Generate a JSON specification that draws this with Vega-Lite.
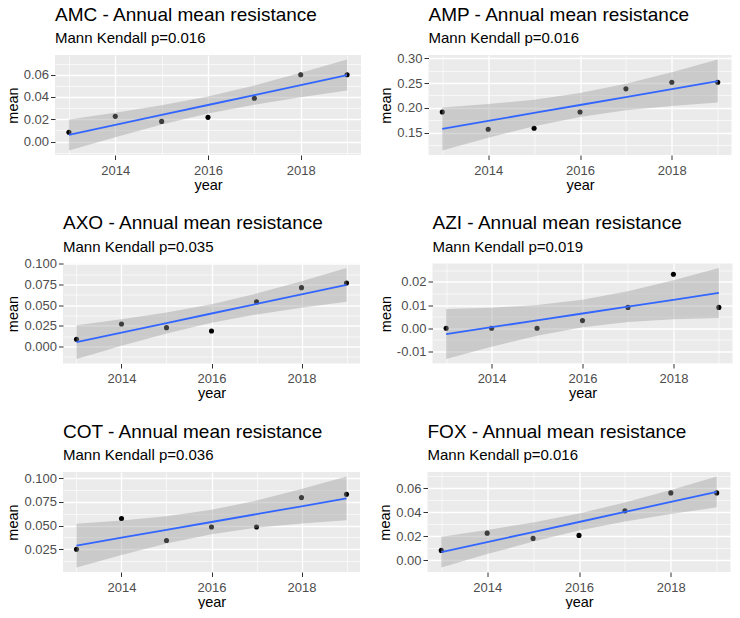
{
  "$schema": "https://vega.github.io/schema/vega-lite/v6.json",
  "background": "white",
  "padding": {"left": 4, "top": 5, "right": 0, "bottom": 0},
  "datasets": {
    "d": [
      {"drug": "AMC", "year": 2013, "mean": 0.0083, "fit": 0.00595, "lo": -0.00798, "hi": 0.01988},
      {"drug": "AMC", "year": 2014, "mean": 0.0226, "fit": 0.0149, "lo": 0.00397, "hi": 0.02583},
      {"drug": "AMC", "year": 2015, "mean": 0.0181, "fit": 0.02385, "lo": 0.01521, "hi": 0.03249},
      {"drug": "AMC", "year": 2016, "mean": 0.0217, "fit": 0.0328, "lo": 0.02508, "hi": 0.04052},
      {"drug": "AMC", "year": 2017, "mean": 0.0389, "fit": 0.04175, "lo": 0.03311, "hi": 0.05039},
      {"drug": "AMC", "year": 2018, "mean": 0.06, "fit": 0.0507, "lo": 0.03977, "hi": 0.06163},
      {"drug": "AMC", "year": 2019, "mean": 0.06, "fit": 0.05965, "lo": 0.04572, "hi": 0.07358},
      {"drug": "AMP", "year": 2013, "mean": 0.1915, "fit": 0.15747, "lo": 0.11402, "hi": 0.20092},
      {"drug": "AMP", "year": 2014, "mean": 0.1567, "fit": 0.17357, "lo": 0.13949, "hi": 0.20765},
      {"drug": "AMP", "year": 2015, "mean": 0.1587, "fit": 0.18967, "lo": 0.16273, "hi": 0.21661},
      {"drug": "AMP", "year": 2016, "mean": 0.1915, "fit": 0.20577, "lo": 0.18167, "hi": 0.22987},
      {"drug": "AMP", "year": 2017, "mean": 0.2384, "fit": 0.22187, "lo": 0.19493, "hi": 0.24881},
      {"drug": "AMP", "year": 2018, "mean": 0.2518, "fit": 0.23797, "lo": 0.20389, "hi": 0.27205},
      {"drug": "AMP", "year": 2019, "mean": 0.2518, "fit": 0.25407, "lo": 0.21062, "hi": 0.29752},
      {"drug": "AXO", "year": 2013, "mean": 0.0088, "fit": 0.00531, "lo": -0.01506, "hi": 0.02568},
      {"drug": "AXO", "year": 2014, "mean": 0.0272, "fit": 0.01686, "lo": 0.00088, "hi": 0.03284},
      {"drug": "AXO", "year": 2015, "mean": 0.0228, "fit": 0.0284, "lo": 0.01577, "hi": 0.04103},
      {"drug": "AXO", "year": 2016, "mean": 0.0188, "fit": 0.03994, "lo": 0.02864, "hi": 0.05124},
      {"drug": "AXO", "year": 2017, "mean": 0.054, "fit": 0.05148, "lo": 0.03885, "hi": 0.06411},
      {"drug": "AXO", "year": 2018, "mean": 0.0712, "fit": 0.06302, "lo": 0.04704, "hi": 0.079},
      {"drug": "AXO", "year": 2019, "mean": 0.0768, "fit": 0.07457, "lo": 0.0542, "hi": 0.09494},
      {"drug": "AZI", "year": 2013, "mean": 0, "fit": -0.00248, "lo": -0.01322, "hi": 0.00826},
      {"drug": "AZI", "year": 2014, "mean": 0, "fit": 0.00047, "lo": -0.00796, "hi": 0.0089},
      {"drug": "AZI", "year": 2015, "mean": 0, "fit": 0.00342, "lo": -0.00324, "hi": 0.01008},
      {"drug": "AZI", "year": 2016, "mean": 0.0033, "fit": 0.00637, "lo": 0.00041, "hi": 0.01233},
      {"drug": "AZI", "year": 2017, "mean": 0.009, "fit": 0.00932, "lo": 0.00266, "hi": 0.01598},
      {"drug": "AZI", "year": 2018, "mean": 0.0233, "fit": 0.01227, "lo": 0.00384, "hi": 0.0207},
      {"drug": "AZI", "year": 2019, "mean": 0.009, "fit": 0.01522, "lo": 0.00448, "hi": 0.02596},
      {"drug": "COT", "year": 2013, "mean": 0.025, "fit": 0.02886, "lo": 0.00575, "hi": 0.05197},
      {"drug": "COT", "year": 2014, "mean": 0.0575, "fit": 0.03717, "lo": 0.01904, "hi": 0.0553},
      {"drug": "COT", "year": 2015, "mean": 0.0343, "fit": 0.04548, "lo": 0.03115, "hi": 0.05981},
      {"drug": "COT", "year": 2016, "mean": 0.0485, "fit": 0.05379, "lo": 0.04097, "hi": 0.06661},
      {"drug": "COT", "year": 2017, "mean": 0.0485, "fit": 0.0621, "lo": 0.04777, "hi": 0.07643},
      {"drug": "COT", "year": 2018, "mean": 0.0796, "fit": 0.07041, "lo": 0.05228, "hi": 0.08854},
      {"drug": "COT", "year": 2019, "mean": 0.0831, "fit": 0.07872, "lo": 0.05561, "hi": 0.10183},
      {"drug": "FOX", "year": 2013, "mean": 0.0081, "fit": 0.00671, "lo": -0.00616, "hi": 0.01958},
      {"drug": "FOX", "year": 2014, "mean": 0.0225, "fit": 0.01507, "lo": 0.00497, "hi": 0.02517},
      {"drug": "FOX", "year": 2015, "mean": 0.0181, "fit": 0.02344, "lo": 0.01546, "hi": 0.03142},
      {"drug": "FOX", "year": 2016, "mean": 0.0206, "fit": 0.0318, "lo": 0.02466, "hi": 0.03894},
      {"drug": "FOX", "year": 2017, "mean": 0.0411, "fit": 0.04016, "lo": 0.03218, "hi": 0.04814},
      {"drug": "FOX", "year": 2018, "mean": 0.0561, "fit": 0.04853, "lo": 0.03843, "hi": 0.05863},
      {"drug": "FOX", "year": 2019, "mean": 0.0561, "fit": 0.05689, "lo": 0.04402, "hi": 0.06976}
    ]
  },
  "data": {"name": "d"},
  "spacing": 21.5,
  "vconcat": [
    {
      "spacing": 0,
      "hconcat": [
        {"width": 1, "height": 1, "mark": {"type": "point", "opacity": 0, "size": 0}, "encoding": {}},
        {
          "spacing": 17.5,
          "hconcat": [
            {
              "title": {"text": "AMC - Annual mean resistance", "subtitle": "Mann Kendall p=0.016"},
              "width": 306, "height": 100,
              "view": {"fill": "#EBEBEB", "stroke": null},
              "transform": [{"filter": "datum.drug == 'AMC'"}],
              "encoding": {"x": {"field": "year", "type": "quantitative", "scale": {"domain": [2012.7, 2019.3], "nice": false, "zero": false}, "axis": {"title": "year", "values": [2013, 2014, 2015, 2016, 2017, 2018, 2019], "format": "d", "labelExpr": "datum.value % 2 == 0 ? datum.label : ''", "gridWidth": {"condition": {"test": "datum.value % 2 == 0", "value": 1.3}, "value": 0.6}, "tickOpacity": {"condition": {"test": "datum.value % 2 == 0", "value": 1}, "value": 0}}}},
              "layer": [
                {"mark": {"type": "point", "filled": true, "color": "#000000", "opacity": 1, "size": 26}, "encoding": {"y": {"field": "mean", "type": "quantitative", "scale": {"domain": [-0.01206, 0.07766], "nice": false, "zero": false}, "axis": {"title": "mean", "values": [-0.01, 0, 0.01, 0.02, 0.03, 0.04, 0.05, 0.06, 0.07, 0.07766], "format": ".2f", "labelExpr": "datum.value == 0.07766 ? ' ' : (abs(datum.value/0.02 - round(datum.value/0.02)) < 0.001 ? replace(datum.label, '−', '-') : '')", "gridWidth": {"condition": {"test": "abs(datum.value/0.02 - round(datum.value/0.02)) < 0.001", "value": 1.3}, "value": 0.6}, "gridOpacity": {"condition": {"test": "datum.value == 0.07766", "value": 0}, "value": 1}, "tickOpacity": {"condition": {"test": "abs(datum.value/0.02 - round(datum.value/0.02)) < 0.001", "value": 1}, "value": 0}}}}},
                {"mark": {"type": "area", "color": "#999999", "opacity": 0.4}, "encoding": {"y": {"field": "lo", "type": "quantitative", "scale": {"domain": [-0.01206, 0.07766], "nice": false, "zero": false}, "axis": {"title": "mean", "values": [-0.01, 0, 0.01, 0.02, 0.03, 0.04, 0.05, 0.06, 0.07, 0.07766], "format": ".2f", "labelExpr": "datum.value == 0.07766 ? ' ' : (abs(datum.value/0.02 - round(datum.value/0.02)) < 0.001 ? replace(datum.label, '−', '-') : '')", "gridWidth": {"condition": {"test": "abs(datum.value/0.02 - round(datum.value/0.02)) < 0.001", "value": 1.3}, "value": 0.6}, "gridOpacity": {"condition": {"test": "datum.value == 0.07766", "value": 0}, "value": 1}, "tickOpacity": {"condition": {"test": "abs(datum.value/0.02 - round(datum.value/0.02)) < 0.001", "value": 1}, "value": 0}}}, "y2": {"field": "hi"}}},
                {"mark": {"type": "line", "color": "#3366FF", "strokeWidth": 1.8}, "encoding": {"y": {"field": "fit", "type": "quantitative", "scale": {"domain": [-0.01206, 0.07766], "nice": false, "zero": false}, "axis": {"title": "mean", "values": [-0.01, 0, 0.01, 0.02, 0.03, 0.04, 0.05, 0.06, 0.07, 0.07766], "format": ".2f", "labelExpr": "datum.value == 0.07766 ? ' ' : (abs(datum.value/0.02 - round(datum.value/0.02)) < 0.001 ? replace(datum.label, '−', '-') : '')", "gridWidth": {"condition": {"test": "abs(datum.value/0.02 - round(datum.value/0.02)) < 0.001", "value": 1.3}, "value": 0.6}, "gridOpacity": {"condition": {"test": "datum.value == 0.07766", "value": 0}, "value": 1}, "tickOpacity": {"condition": {"test": "abs(datum.value/0.02 - round(datum.value/0.02)) < 0.001", "value": 1}, "value": 0}}}}}
              ]
            },
            {
              "title": {"text": "AMP - Annual mean resistance", "subtitle": "Mann Kendall p=0.016"},
              "width": 303, "height": 100,
              "view": {"fill": "#EBEBEB", "stroke": null},
              "transform": [{"filter": "datum.drug == 'AMP'"}],
              "encoding": {"x": {"field": "year", "type": "quantitative", "scale": {"domain": [2012.7, 2019.3], "nice": false, "zero": false}, "axis": {"title": "year", "values": [2013, 2014, 2015, 2016, 2017, 2018, 2019], "format": "d", "labelExpr": "datum.value % 2 == 0 ? datum.label : ''", "gridWidth": {"condition": {"test": "datum.value % 2 == 0", "value": 1.3}, "value": 0.6}, "tickOpacity": {"condition": {"test": "datum.value % 2 == 0", "value": 1}, "value": 0}}}},
              "layer": [
                {"mark": {"type": "point", "filled": true, "color": "#000000", "opacity": 1, "size": 26}, "encoding": {"y": {"field": "mean", "type": "quantitative", "scale": {"domain": [0.10484, 0.3067], "nice": false, "zero": false}, "axis": {"title": "mean", "values": [0.125, 0.15, 0.175, 0.2, 0.225, 0.25, 0.275, 0.3, 0.3067], "format": ".2f", "labelExpr": "datum.value == 0.3067 ? ' ' : (abs(datum.value/0.05 - round(datum.value/0.05)) < 0.001 ? replace(datum.label, '−', '-') : '')", "gridWidth": {"condition": {"test": "abs(datum.value/0.05 - round(datum.value/0.05)) < 0.001", "value": 1.3}, "value": 0.6}, "gridOpacity": {"condition": {"test": "datum.value == 0.3067", "value": 0}, "value": 1}, "tickOpacity": {"condition": {"test": "abs(datum.value/0.05 - round(datum.value/0.05)) < 0.001", "value": 1}, "value": 0}}}}},
                {"mark": {"type": "area", "color": "#999999", "opacity": 0.4}, "encoding": {"y": {"field": "lo", "type": "quantitative", "scale": {"domain": [0.10484, 0.3067], "nice": false, "zero": false}, "axis": {"title": "mean", "values": [0.125, 0.15, 0.175, 0.2, 0.225, 0.25, 0.275, 0.3, 0.3067], "format": ".2f", "labelExpr": "datum.value == 0.3067 ? ' ' : (abs(datum.value/0.05 - round(datum.value/0.05)) < 0.001 ? replace(datum.label, '−', '-') : '')", "gridWidth": {"condition": {"test": "abs(datum.value/0.05 - round(datum.value/0.05)) < 0.001", "value": 1.3}, "value": 0.6}, "gridOpacity": {"condition": {"test": "datum.value == 0.3067", "value": 0}, "value": 1}, "tickOpacity": {"condition": {"test": "abs(datum.value/0.05 - round(datum.value/0.05)) < 0.001", "value": 1}, "value": 0}}}, "y2": {"field": "hi"}}},
                {"mark": {"type": "line", "color": "#3366FF", "strokeWidth": 1.8}, "encoding": {"y": {"field": "fit", "type": "quantitative", "scale": {"domain": [0.10484, 0.3067], "nice": false, "zero": false}, "axis": {"title": "mean", "values": [0.125, 0.15, 0.175, 0.2, 0.225, 0.25, 0.275, 0.3, 0.3067], "format": ".2f", "labelExpr": "datum.value == 0.3067 ? ' ' : (abs(datum.value/0.05 - round(datum.value/0.05)) < 0.001 ? replace(datum.label, '−', '-') : '')", "gridWidth": {"condition": {"test": "abs(datum.value/0.05 - round(datum.value/0.05)) < 0.001", "value": 1.3}, "value": 0.6}, "gridOpacity": {"condition": {"test": "datum.value == 0.3067", "value": 0}, "value": 1}, "tickOpacity": {"condition": {"test": "abs(datum.value/0.05 - round(datum.value/0.05)) < 0.001", "value": 1}, "value": 0}}}}}
              ]
            }
          ]
        }
      ]
    },
    {
      "spacing": 0,
      "hconcat": [
        {"width": 1, "height": 1, "mark": {"type": "point", "opacity": 0, "size": 0}, "encoding": {}},
        {
          "spacing": 17.5,
          "hconcat": [
            {
              "title": {"text": "AXO - Annual mean resistance", "subtitle": "Mann Kendall p=0.035"},
              "width": 297, "height": 100,
              "view": {"fill": "#EBEBEB", "stroke": null},
              "transform": [{"filter": "datum.drug == 'AXO'"}],
              "encoding": {"x": {"field": "year", "type": "quantitative", "scale": {"domain": [2012.7, 2019.3], "nice": false, "zero": false}, "axis": {"title": "year", "values": [2013, 2014, 2015, 2016, 2017, 2018, 2019], "format": "d", "labelExpr": "datum.value % 2 == 0 ? datum.label : ''", "gridWidth": {"condition": {"test": "datum.value % 2 == 0", "value": 1.3}, "value": 0.6}, "tickOpacity": {"condition": {"test": "datum.value % 2 == 0", "value": 1}, "value": 0}}}},
              "layer": [
                {"mark": {"type": "point", "filled": true, "color": "#000000", "opacity": 1, "size": 26}, "encoding": {"y": {"field": "mean", "type": "quantitative", "scale": {"domain": [-0.02056, 0.10044], "nice": false, "zero": false}, "axis": {"title": "mean", "values": [-0.0125, 0, 0.0125, 0.025, 0.0375, 0.05, 0.0625, 0.075, 0.0875, 0.1, 0.10044], "format": ".3f", "labelExpr": "datum.value == 0.10044 ? ' ' : (abs(datum.value/0.025 - round(datum.value/0.025)) < 0.001 ? replace(datum.label, '−', '-') : '')", "gridWidth": {"condition": {"test": "abs(datum.value/0.025 - round(datum.value/0.025)) < 0.001", "value": 1.3}, "value": 0.6}, "gridOpacity": {"condition": {"test": "datum.value == 0.10044", "value": 0}, "value": 1}, "tickOpacity": {"condition": {"test": "abs(datum.value/0.025 - round(datum.value/0.025)) < 0.001", "value": 1}, "value": 0}}}}},
                {"mark": {"type": "area", "color": "#999999", "opacity": 0.4}, "encoding": {"y": {"field": "lo", "type": "quantitative", "scale": {"domain": [-0.02056, 0.10044], "nice": false, "zero": false}, "axis": {"title": "mean", "values": [-0.0125, 0, 0.0125, 0.025, 0.0375, 0.05, 0.0625, 0.075, 0.0875, 0.1, 0.10044], "format": ".3f", "labelExpr": "datum.value == 0.10044 ? ' ' : (abs(datum.value/0.025 - round(datum.value/0.025)) < 0.001 ? replace(datum.label, '−', '-') : '')", "gridWidth": {"condition": {"test": "abs(datum.value/0.025 - round(datum.value/0.025)) < 0.001", "value": 1.3}, "value": 0.6}, "gridOpacity": {"condition": {"test": "datum.value == 0.10044", "value": 0}, "value": 1}, "tickOpacity": {"condition": {"test": "abs(datum.value/0.025 - round(datum.value/0.025)) < 0.001", "value": 1}, "value": 0}}}, "y2": {"field": "hi"}}},
                {"mark": {"type": "line", "color": "#3366FF", "strokeWidth": 1.8}, "encoding": {"y": {"field": "fit", "type": "quantitative", "scale": {"domain": [-0.02056, 0.10044], "nice": false, "zero": false}, "axis": {"title": "mean", "values": [-0.0125, 0, 0.0125, 0.025, 0.0375, 0.05, 0.0625, 0.075, 0.0875, 0.1, 0.10044], "format": ".3f", "labelExpr": "datum.value == 0.10044 ? ' ' : (abs(datum.value/0.025 - round(datum.value/0.025)) < 0.001 ? replace(datum.label, '−', '-') : '')", "gridWidth": {"condition": {"test": "abs(datum.value/0.025 - round(datum.value/0.025)) < 0.001", "value": 1.3}, "value": 0.6}, "gridOpacity": {"condition": {"test": "datum.value == 0.10044", "value": 0}, "value": 1}, "tickOpacity": {"condition": {"test": "abs(datum.value/0.025 - round(datum.value/0.025)) < 0.001", "value": 1}, "value": 0}}}}}
              ]
            },
            {
              "title": {"text": "AZI - Annual mean resistance", "subtitle": "Mann Kendall p=0.019"},
              "width": 300, "height": 100,
              "view": {"fill": "#EBEBEB", "stroke": null},
              "transform": [{"filter": "datum.drug == 'AZI'"}],
              "encoding": {"x": {"field": "year", "type": "quantitative", "scale": {"domain": [2012.7, 2019.3], "nice": false, "zero": false}, "axis": {"title": "year", "values": [2013, 2014, 2015, 2016, 2017, 2018, 2019], "format": "d", "labelExpr": "datum.value % 2 == 0 ? datum.label : ''", "gridWidth": {"condition": {"test": "datum.value % 2 == 0", "value": 1.3}, "value": 0.6}, "tickOpacity": {"condition": {"test": "datum.value % 2 == 0", "value": 1}, "value": 0}}}},
              "layer": [
                {"mark": {"type": "point", "filled": true, "color": "#000000", "opacity": 1, "size": 26}, "encoding": {"y": {"field": "mean", "type": "quantitative", "scale": {"domain": [-0.01518, 0.02792], "nice": false, "zero": false}, "axis": {"title": "mean", "values": [-0.015, -0.01, -0.005, 0, 0.005, 0.01, 0.015, 0.02, 0.025, 0.02792], "format": ".2f", "labelExpr": "datum.value == 0.02792 ? ' ' : (abs(datum.value/0.01 - round(datum.value/0.01)) < 0.001 ? replace(datum.label, '−', '-') : '')", "gridWidth": {"condition": {"test": "abs(datum.value/0.01 - round(datum.value/0.01)) < 0.001", "value": 1.3}, "value": 0.6}, "gridOpacity": {"condition": {"test": "datum.value == 0.02792", "value": 0}, "value": 1}, "tickOpacity": {"condition": {"test": "abs(datum.value/0.01 - round(datum.value/0.01)) < 0.001", "value": 1}, "value": 0}}}}},
                {"mark": {"type": "area", "color": "#999999", "opacity": 0.4}, "encoding": {"y": {"field": "lo", "type": "quantitative", "scale": {"domain": [-0.01518, 0.02792], "nice": false, "zero": false}, "axis": {"title": "mean", "values": [-0.015, -0.01, -0.005, 0, 0.005, 0.01, 0.015, 0.02, 0.025, 0.02792], "format": ".2f", "labelExpr": "datum.value == 0.02792 ? ' ' : (abs(datum.value/0.01 - round(datum.value/0.01)) < 0.001 ? replace(datum.label, '−', '-') : '')", "gridWidth": {"condition": {"test": "abs(datum.value/0.01 - round(datum.value/0.01)) < 0.001", "value": 1.3}, "value": 0.6}, "gridOpacity": {"condition": {"test": "datum.value == 0.02792", "value": 0}, "value": 1}, "tickOpacity": {"condition": {"test": "abs(datum.value/0.01 - round(datum.value/0.01)) < 0.001", "value": 1}, "value": 0}}}, "y2": {"field": "hi"}}},
                {"mark": {"type": "line", "color": "#3366FF", "strokeWidth": 1.8}, "encoding": {"y": {"field": "fit", "type": "quantitative", "scale": {"domain": [-0.01518, 0.02792], "nice": false, "zero": false}, "axis": {"title": "mean", "values": [-0.015, -0.01, -0.005, 0, 0.005, 0.01, 0.015, 0.02, 0.025, 0.02792], "format": ".2f", "labelExpr": "datum.value == 0.02792 ? ' ' : (abs(datum.value/0.01 - round(datum.value/0.01)) < 0.001 ? replace(datum.label, '−', '-') : '')", "gridWidth": {"condition": {"test": "abs(datum.value/0.01 - round(datum.value/0.01)) < 0.001", "value": 1.3}, "value": 0.6}, "gridOpacity": {"condition": {"test": "datum.value == 0.02792", "value": 0}, "value": 1}, "tickOpacity": {"condition": {"test": "abs(datum.value/0.01 - round(datum.value/0.01)) < 0.001", "value": 1}, "value": 0}}}}}
              ]
            }
          ]
        }
      ]
    },
    {
      "spacing": 0,
      "hconcat": [
        {"width": 1, "height": 1, "mark": {"type": "point", "opacity": 0, "size": 0}, "encoding": {}},
        {
          "spacing": 17.5,
          "hconcat": [
            {
              "title": {"text": "COT - Annual mean resistance", "subtitle": "Mann Kendall p=0.036"},
              "width": 297, "height": 100,
              "view": {"fill": "#EBEBEB", "stroke": null},
              "transform": [{"filter": "datum.drug == 'COT'"}],
              "encoding": {"x": {"field": "year", "type": "quantitative", "scale": {"domain": [2012.7, 2019.3], "nice": false, "zero": false}, "axis": {"title": "year", "values": [2013, 2014, 2015, 2016, 2017, 2018, 2019], "format": "d", "labelExpr": "datum.value % 2 == 0 ? datum.label : ''", "gridWidth": {"condition": {"test": "datum.value % 2 == 0", "value": 1.3}, "value": 0.6}, "tickOpacity": {"condition": {"test": "datum.value % 2 == 0", "value": 1}, "value": 0}}}},
              "layer": [
                {"mark": {"type": "point", "filled": true, "color": "#000000", "opacity": 1, "size": 26}, "encoding": {"y": {"field": "mean", "type": "quantitative", "scale": {"domain": [0.00095, 0.10663], "nice": false, "zero": false}, "axis": {"title": "mean", "values": [0.0125, 0.025, 0.0375, 0.05, 0.0625, 0.075, 0.0875, 0.1, 0.10663], "format": ".3f", "labelExpr": "datum.value == 0.10663 ? ' ' : (abs(datum.value/0.025 - round(datum.value/0.025)) < 0.001 ? replace(datum.label, '−', '-') : '')", "gridWidth": {"condition": {"test": "abs(datum.value/0.025 - round(datum.value/0.025)) < 0.001", "value": 1.3}, "value": 0.6}, "gridOpacity": {"condition": {"test": "datum.value == 0.10663", "value": 0}, "value": 1}, "tickOpacity": {"condition": {"test": "abs(datum.value/0.025 - round(datum.value/0.025)) < 0.001", "value": 1}, "value": 0}}}}},
                {"mark": {"type": "area", "color": "#999999", "opacity": 0.4}, "encoding": {"y": {"field": "lo", "type": "quantitative", "scale": {"domain": [0.00095, 0.10663], "nice": false, "zero": false}, "axis": {"title": "mean", "values": [0.0125, 0.025, 0.0375, 0.05, 0.0625, 0.075, 0.0875, 0.1, 0.10663], "format": ".3f", "labelExpr": "datum.value == 0.10663 ? ' ' : (abs(datum.value/0.025 - round(datum.value/0.025)) < 0.001 ? replace(datum.label, '−', '-') : '')", "gridWidth": {"condition": {"test": "abs(datum.value/0.025 - round(datum.value/0.025)) < 0.001", "value": 1.3}, "value": 0.6}, "gridOpacity": {"condition": {"test": "datum.value == 0.10663", "value": 0}, "value": 1}, "tickOpacity": {"condition": {"test": "abs(datum.value/0.025 - round(datum.value/0.025)) < 0.001", "value": 1}, "value": 0}}}, "y2": {"field": "hi"}}},
                {"mark": {"type": "line", "color": "#3366FF", "strokeWidth": 1.8}, "encoding": {"y": {"field": "fit", "type": "quantitative", "scale": {"domain": [0.00095, 0.10663], "nice": false, "zero": false}, "axis": {"title": "mean", "values": [0.0125, 0.025, 0.0375, 0.05, 0.0625, 0.075, 0.0875, 0.1, 0.10663], "format": ".3f", "labelExpr": "datum.value == 0.10663 ? ' ' : (abs(datum.value/0.025 - round(datum.value/0.025)) < 0.001 ? replace(datum.label, '−', '-') : '')", "gridWidth": {"condition": {"test": "abs(datum.value/0.025 - round(datum.value/0.025)) < 0.001", "value": 1.3}, "value": 0.6}, "gridOpacity": {"condition": {"test": "datum.value == 0.10663", "value": 0}, "value": 1}, "tickOpacity": {"condition": {"test": "abs(datum.value/0.025 - round(datum.value/0.025)) < 0.001", "value": 1}, "value": 0}}}}}
              ]
            },
            {
              "title": {"text": "FOX - Annual mean resistance", "subtitle": "Mann Kendall p=0.016"},
              "width": 303, "height": 100,
              "view": {"fill": "#EBEBEB", "stroke": null},
              "transform": [{"filter": "datum.drug == 'FOX'"}],
              "encoding": {"x": {"field": "year", "type": "quantitative", "scale": {"domain": [2012.7, 2019.3], "nice": false, "zero": false}, "axis": {"title": "year", "values": [2013, 2014, 2015, 2016, 2017, 2018, 2019], "format": "d", "labelExpr": "datum.value % 2 == 0 ? datum.label : ''", "gridWidth": {"condition": {"test": "datum.value % 2 == 0", "value": 1.3}, "value": 0.6}, "tickOpacity": {"condition": {"test": "datum.value % 2 == 0", "value": 1}, "value": 0}}}},
              "layer": [
                {"mark": {"type": "point", "filled": true, "color": "#000000", "opacity": 1, "size": 26}, "encoding": {"y": {"field": "mean", "type": "quantitative", "scale": {"domain": [-0.00996, 0.07356], "nice": false, "zero": false}, "axis": {"title": "mean", "values": [0, 0.01, 0.02, 0.03, 0.04, 0.05, 0.06, 0.07, 0.07356], "format": ".2f", "labelExpr": "datum.value == 0.07356 ? ' ' : (abs(datum.value/0.02 - round(datum.value/0.02)) < 0.001 ? replace(datum.label, '−', '-') : '')", "gridWidth": {"condition": {"test": "abs(datum.value/0.02 - round(datum.value/0.02)) < 0.001", "value": 1.3}, "value": 0.6}, "gridOpacity": {"condition": {"test": "datum.value == 0.07356", "value": 0}, "value": 1}, "tickOpacity": {"condition": {"test": "abs(datum.value/0.02 - round(datum.value/0.02)) < 0.001", "value": 1}, "value": 0}}}}},
                {"mark": {"type": "area", "color": "#999999", "opacity": 0.4}, "encoding": {"y": {"field": "lo", "type": "quantitative", "scale": {"domain": [-0.00996, 0.07356], "nice": false, "zero": false}, "axis": {"title": "mean", "values": [0, 0.01, 0.02, 0.03, 0.04, 0.05, 0.06, 0.07, 0.07356], "format": ".2f", "labelExpr": "datum.value == 0.07356 ? ' ' : (abs(datum.value/0.02 - round(datum.value/0.02)) < 0.001 ? replace(datum.label, '−', '-') : '')", "gridWidth": {"condition": {"test": "abs(datum.value/0.02 - round(datum.value/0.02)) < 0.001", "value": 1.3}, "value": 0.6}, "gridOpacity": {"condition": {"test": "datum.value == 0.07356", "value": 0}, "value": 1}, "tickOpacity": {"condition": {"test": "abs(datum.value/0.02 - round(datum.value/0.02)) < 0.001", "value": 1}, "value": 0}}}, "y2": {"field": "hi"}}},
                {"mark": {"type": "line", "color": "#3366FF", "strokeWidth": 1.8}, "encoding": {"y": {"field": "fit", "type": "quantitative", "scale": {"domain": [-0.00996, 0.07356], "nice": false, "zero": false}, "axis": {"title": "mean", "values": [0, 0.01, 0.02, 0.03, 0.04, 0.05, 0.06, 0.07, 0.07356], "format": ".2f", "labelExpr": "datum.value == 0.07356 ? ' ' : (abs(datum.value/0.02 - round(datum.value/0.02)) < 0.001 ? replace(datum.label, '−', '-') : '')", "gridWidth": {"condition": {"test": "abs(datum.value/0.02 - round(datum.value/0.02)) < 0.001", "value": 1.3}, "value": 0.6}, "gridOpacity": {"condition": {"test": "datum.value == 0.07356", "value": 0}, "value": 1}, "tickOpacity": {"condition": {"test": "abs(datum.value/0.02 - round(datum.value/0.02)) < 0.001", "value": 1}, "value": 0}}}}}
              ]
            }
          ]
        }
      ]
    }
  ],
  "config": {
    "font": "Liberation Sans",
    "view": {"stroke": null},
    "title": {"anchor": "start", "frame": "group", "fontSize": 19, "fontWeight": "normal", "color": "#000000", "subtitleFontSize": 15, "subtitleColor": "#000000", "subtitleFont": "Liberation Sans", "subtitlePadding": 6.5, "offset": 3},
    "axis": {"domain": false, "labelFont": "Liberation Sans", "labelFontSize": 13, "labelColor": "#4D4D4D", "tickColor": "#333333", "tickSize": 4.5, "tickWidth": 1, "titleFont": "Liberation Sans", "titleFontSize": 14.5, "titleFontWeight": "normal", "titleColor": "#000000", "gridColor": "#FFFFFF", "labelOverlap": false, "labelFlush": false},
    "axisX": {"labelPadding": 4.5, "titlePadding": 1},
    "axisY": {"labelPadding": 2, "titlePadding": 3}
  }
}
